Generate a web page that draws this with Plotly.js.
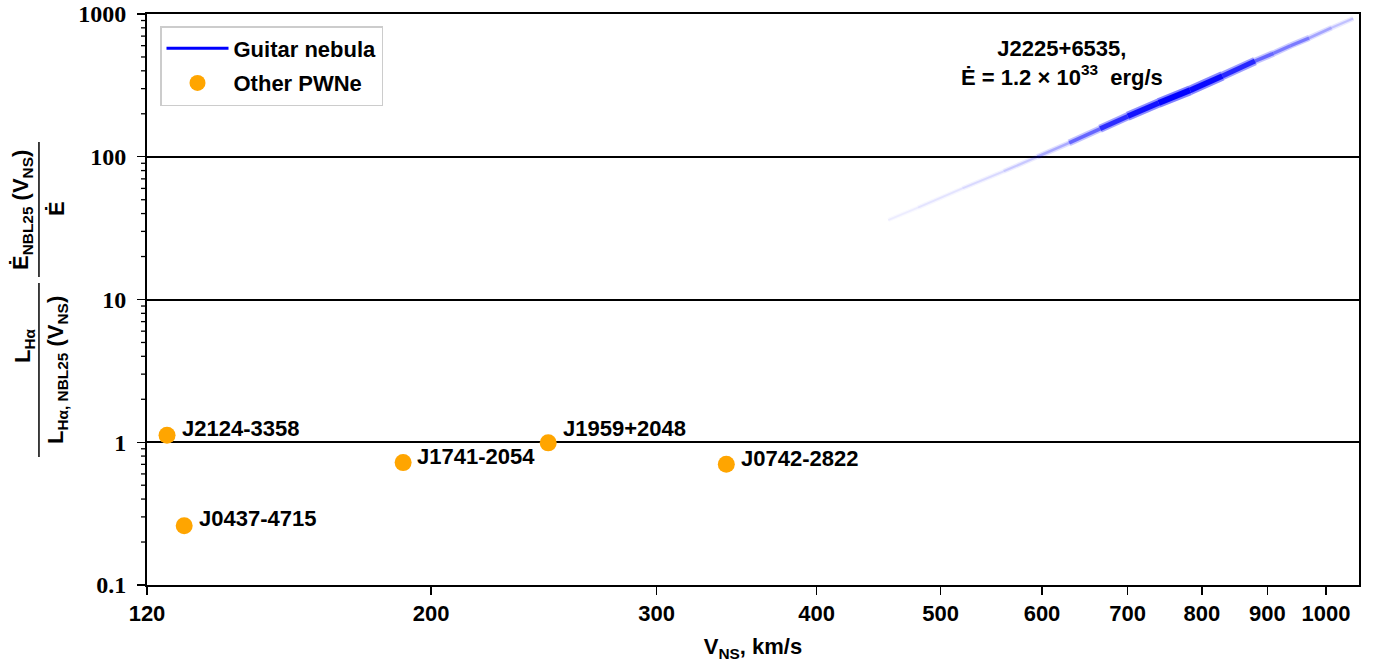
<!DOCTYPE html>
<html>
<head>
<meta charset="utf-8">
<script src="https://cdn.plot.ly/plotly-3.0.1.min.js"></script>
<style>html,body{margin:0;padding:0;background:#fff;}#chart{width:1379px;height:662px;}</style>
</head>
<body>
<div id="chart"></div>
<script>
// ---- data ----
const pulsarNames = ['J2124-3358', 'J0437-4715', 'J1741-2054', 'J1959+2048', 'J0742-2822'];
const pulsarV = [124.4, 128.3, 190.2, 246.9, 340.1];
const pulsarRatio = [1.12, 0.26, 0.72, 0.99, 0.70];

const guitarV = [455, 480, 520, 560, 595, 630, 666, 700, 740, 783, 830, 880, 910, 938, 970, 1010, 1050];
const guitarRatio = [36, 44, 60, 79, 100, 125, 157, 192, 238, 292, 368, 468, 530, 600, 680, 800, 930];
const guitarDensity = [0.04, 0.06, 0.09, 0.12, 0.18, 0.3, 0.65, 0.8, 0.95, 1.0, 0.85, 0.65, 0.3, 0.5, 0.3, 0.22, 0.12];

const xTickVals = [120, 200, 300, 400, 500, 600, 700, 800, 900, 1000];
const xTickText = ['120', '200', '300', '400', '500', '600', '700', '800', '900', '1000'];
const yTickVals = [0.1, 1, 10, 100, 1000];
const yTickText = ['0.1', '1', '10', '100', '1000'];
const yMinorTickVals = [0.2, 0.3, 0.4, 0.5, 0.6, 0.7, 0.8, 0.9,
                        2, 3, 4, 5, 6, 7, 8, 9,
                        20, 30, 40, 50, 60, 70, 80, 90,
                        200, 300, 400, 500, 600, 700, 800, 900];

// label offsets (style, px)
const labelShiftX = [13, 13, 12, 13, 13];
const labelShiftY = [7, 7, 6, 14, 6];

// ---- build traces ----
const traces = [];
for (let i = 0; i < guitarV.length - 1; i++) {
  const d = (guitarDensity[i] + guitarDensity[i + 1]) / 2;
  traces.push({
    x: [guitarV[i], guitarV[i + 1]], y: [guitarRatio[i], guitarRatio[i + 1]],
    mode: 'lines', showlegend: false, hoverinfo: 'skip',
    line: {color: 'rgba(0,0,255,' + (0.5 * d).toFixed(3) + ')', width: 4 + 6 * d}
  });
}
for (let i = 0; i < guitarV.length - 1; i++) {
  const d = (guitarDensity[i] + guitarDensity[i + 1]) / 2;
  traces.push({
    x: [guitarV[i], guitarV[i + 1]], y: [guitarRatio[i], guitarRatio[i + 1]],
    mode: 'lines', showlegend: false, hoverinfo: 'skip',
    line: {color: 'rgba(0,0,255,' + Math.min(1, 1.0 * d).toFixed(3) + ')', width: 1.5 + 4.5 * d}
  });
}
traces.push({
  x: [null], y: [null], mode: 'lines', name: 'Guitar nebula', legendgroup: 'g1',
  line: {color: 'blue', width: 3}
});
traces.push({
  x: pulsarV, y: pulsarRatio, mode: 'markers', name: 'Other PWNe', legendgroup: 'g2',
  marker: {color: 'orange', size: 17}
});

const SANS = "'Liberation Sans', Arial, sans-serif";
const SERIF = "'Liberation Serif', 'DejaVu Serif', 'Times New Roman', serif";

const annotations = pulsarNames.map((n, i) => ({
  x: Math.log10(pulsarV[i]), y: Math.log10(pulsarRatio[i]), xref: 'x', yref: 'y',
  text: n, showarrow: false, xanchor: 'left', yanchor: 'middle',
  xshift: labelShiftX[i], yshift: labelShiftY[i],
  font: {family: SANS, size: 22, color: 'black', weight: 'bold'}
}));

annotations.push({
  xref: 'paper', yref: 'paper', x: 0.7552, y: 0.9142, xanchor: 'center', yanchor: 'middle',
  showarrow: false, align: 'center',
  text: 'J2225+6535,<br>Ė = 1.2 × 10<sup>33</sup>  erg/s',
  font: {family: SANS, size: 22, color: 'black', weight: 'bold'}
});

// y-axis title pieces (rotated fractions)
const W = 1211.6, H = 571, L = 147, T = 14;
const px2x = p => (p - L) / W;
const py2y = p => (T + H - p) / H;
const yTitleFont = {family: SANS, size: 22, color: 'black', weight: 'bold'};
annotations.push({xref: 'paper', yref: 'paper', x: px2x(22), y: py2y(210), textangle: -90,
  xanchor: 'center', yanchor: 'middle', showarrow: false, font: yTitleFont,
  text: 'Ė<sub>NBL25</sub> (V<sub>NS</sub>)'});
annotations.push({xref: 'paper', yref: 'paper', x: px2x(57), y: py2y(208), textangle: -90,
  xanchor: 'center', yanchor: 'middle', showarrow: false, font: yTitleFont,
  text: 'Ė'});
annotations.push({xref: 'paper', yref: 'paper', x: px2x(24), y: py2y(345), textangle: -90,
  xanchor: 'center', yanchor: 'middle', showarrow: false, font: yTitleFont,
  text: 'L<sub>Hα</sub>'});
annotations.push({xref: 'paper', yref: 'paper', x: px2x(57), y: py2y(370), textangle: -90,
  xanchor: 'center', yanchor: 'middle', showarrow: false, font: yTitleFont,
  text: 'L<sub>Hα, NBL25</sub> (V<sub>NS</sub>)'});

const shapes = [
  {type: 'line', xref: 'paper', yref: 'paper', x0: px2x(39), x1: px2x(39), y0: py2y(142), y1: py2y(277),
   line: {color: 'black', width: 1.5}},
  {type: 'line', xref: 'paper', yref: 'paper', x0: px2x(39), x1: px2x(39), y0: py2y(283), y1: py2y(457),
   line: {color: 'black', width: 1.5}}
];
// minor ticks on the log y axis (outside, left)
yMinorTickVals.forEach(v => {
  shapes.push({type: 'line', xref: 'paper', yref: 'y', x0: -6 / W, x1: 0,
    y0: v, y1: v, line: {color: 'black', width: 1.3}});
});

const layout = {
  width: 1379, height: 662,
  margin: {l: 147, r: 20.4, t: 14, b: 77, pad: 0},
  paper_bgcolor: 'white', plot_bgcolor: 'white',
  showlegend: true,
  legend: {
    x: px2x(160), y: py2y(26), xanchor: 'left', yanchor: 'top',
    bgcolor: 'rgba(255,255,255,0.8)', bordercolor: '#cccccc', borderwidth: 1.5,
    itemwidth: 62, traceorder: 'grouped', tracegroupgap: 3,
    font: {family: SANS, size: 22, color: 'black', weight: 'bold'}
  },
  xaxis: {
    type: 'log', range: [Math.log10(120), Math.log10(1061)],
    tickvals: xTickVals, ticktext: xTickText,
    ticks: 'outside', ticklen: 8, tickwidth: 1.2, tickcolor: 'black',
    showline: true, mirror: true, linecolor: 'black', linewidth: 2,
    showgrid: false, zeroline: false,
    tickfont: {family: SANS, size: 22, color: 'black', weight: 'bold'},
    title: {text: 'V<sub>NS</sub>, km/s', font: {family: SANS, size: 22, color: 'black', weight: 'bold'}}
  },
  yaxis: {
    type: 'log', range: [-1, 3],
    tickvals: yTickVals, ticktext: yTickText,
    ticks: 'outside', ticklen: 8, tickwidth: 1.2, tickcolor: 'black',
    ticklabelstandoff: 6,
    showline: true, mirror: true, linecolor: 'black', linewidth: 2,
    showgrid: true, gridcolor: 'black', gridwidth: 2, zeroline: false,
    tickfont: {family: SERIF, size: 24, color: 'black', weight: 'bold'}
  },
  annotations: annotations,
  shapes: shapes
};

Plotly.newPlot('chart', traces, layout, {displayModeBar: false, staticPlot: true});
</script>
</body>
</html>
